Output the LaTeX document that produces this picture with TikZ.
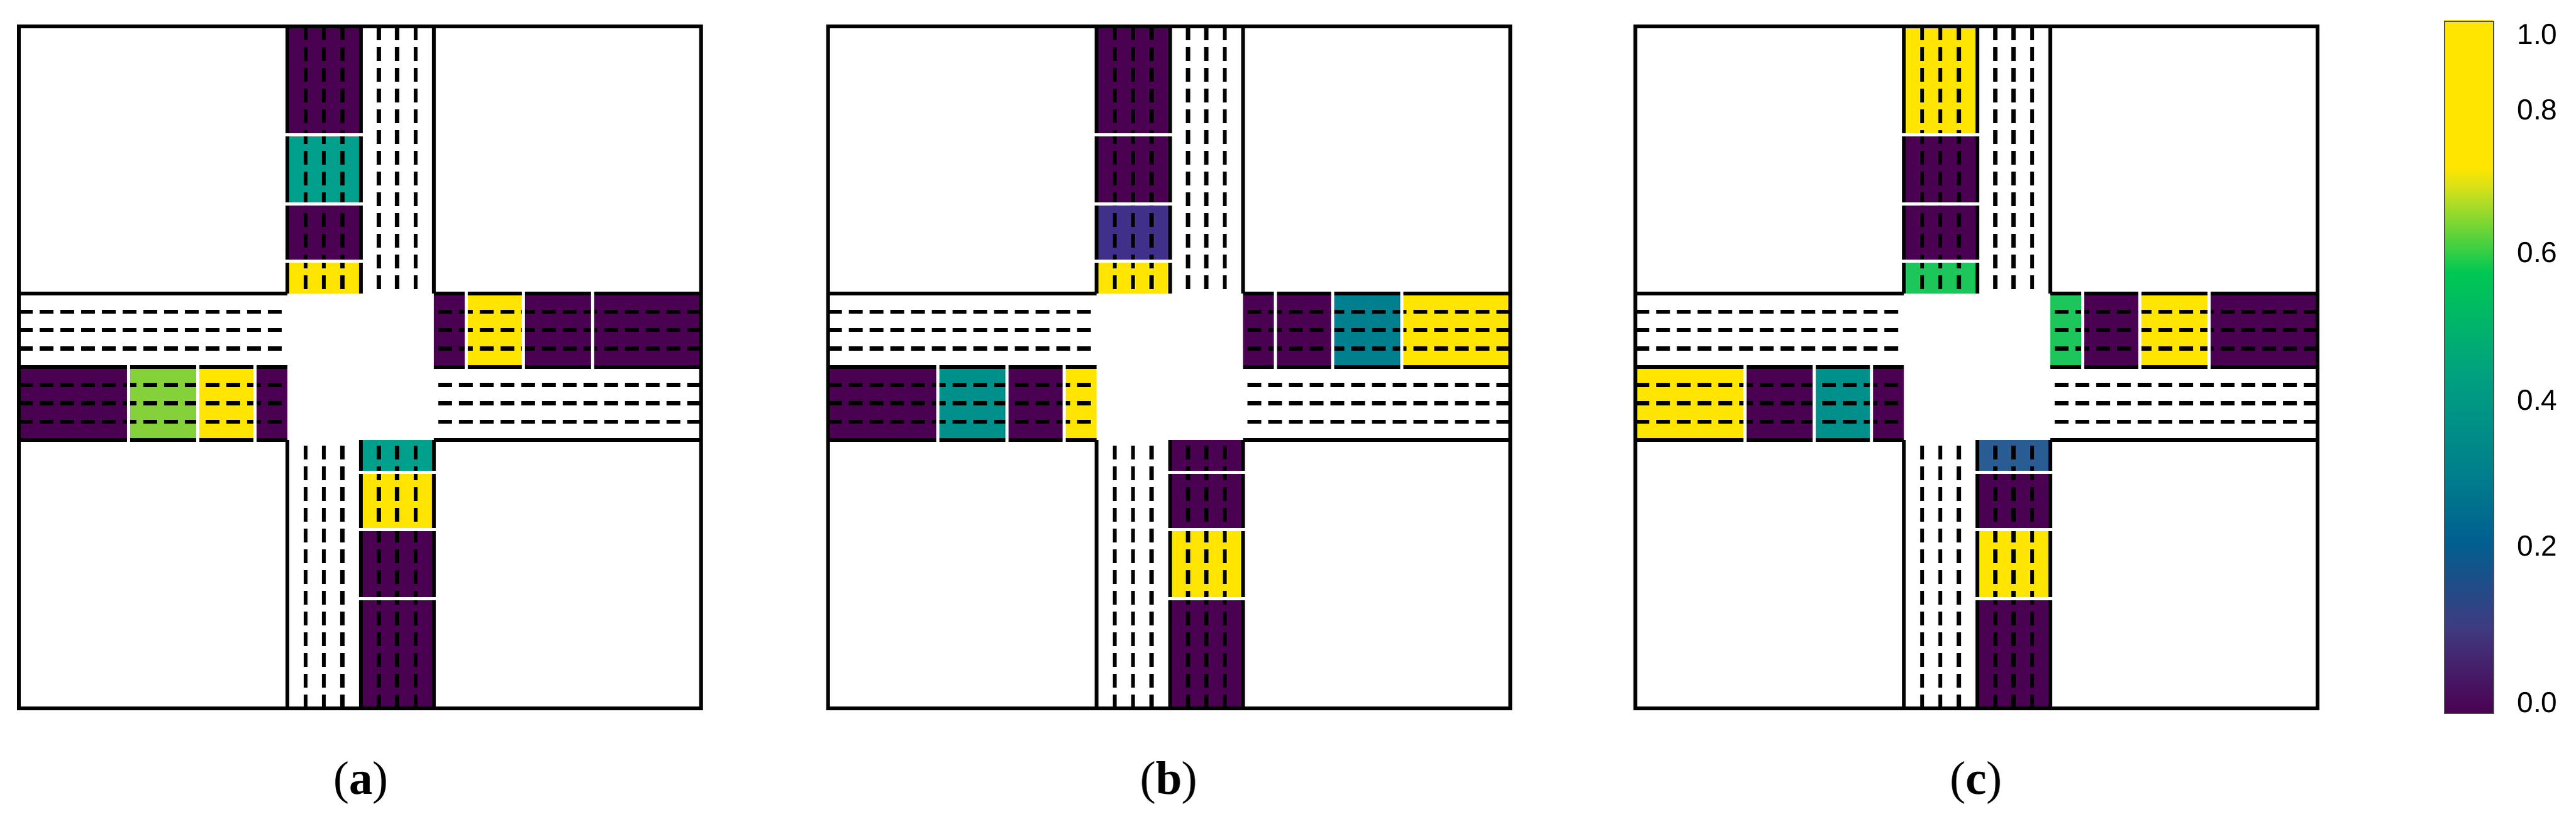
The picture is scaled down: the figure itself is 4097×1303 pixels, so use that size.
\documentclass[tikz,border=0pt]{standalone}
\usepackage{fontspec}
\setmainfont{Liberation Serif}
\newfontfamily\cbfont{Liberation Sans}
\begin{document}
\definecolor{cP}{HTML}{4B0152}
\definecolor{cY}{HTML}{FFE500}
\definecolor{cT}{HTML}{00A08C}
\definecolor{cTb}{HTML}{00808F}
\definecolor{cTc}{HTML}{00908C}
\definecolor{cLG}{HTML}{84D13A}
\definecolor{cDB}{HTML}{40308A}
\definecolor{cG}{HTML}{1CC65A}
\definecolor{cB}{HTML}{2A5C94}
\tikzset{
  edge/.style={line width=6pt,black},
  lane/.style={line width=6.5pt,black,dash pattern=on 22pt off 11pt},
  gap/.style={line width=5pt,white},
  frame/.style={line width=5.5pt,black},
  lab/.style={font=\fontsize{75}{80}\selectfont,anchor=base},
  cbl/.style={font=\cbfont\fontsize{46}{50}\selectfont,anchor=west}
}
% #1 ox; #2 top; #3 right; #4 bottom; #5 left  (each 4 colours near->far)
\newcommand{\crossing}[5]{%
\begin{scope}[shift={(#1,42)}]
 \def\XA{427}\def\XM{543.5}\def\XB{660}
 \def\YA{425}\def\YM{541.5}\def\YB{658}
 \def\S{1085}
 \foreach \c [count=\i] in {#2}{%
   \pgfmathsetmacro\a{{0,51.5,142.5,252.5}[\i-1]}%
   \pgfmathsetmacro\b{{51.5,142.5,252.5,425}[\i-1]}%
   \fill[\c] (\XA,\YA-\a) rectangle (\XM,\YA-\b);}
 \foreach \c [count=\i] in {#3}{%
   \pgfmathsetmacro\a{{0,51.5,142.5,252.5}[\i-1]}%
   \pgfmathsetmacro\b{{51.5,142.5,252.5,425}[\i-1]}%
   \fill[\c] (\XB+\a,\YA) rectangle (\XB+\b,\YM);}
 \foreach \c [count=\i] in {#4}{%
   \pgfmathsetmacro\a{{0,51.5,142.5,252.5}[\i-1]}%
   \pgfmathsetmacro\b{{51.5,142.5,252.5,427}[\i-1]}%
   \fill[\c] (\XM,\YB+\a) rectangle (\XB,\YB+\b);}
 \foreach \c [count=\i] in {#5}{%
   \pgfmathsetmacro\a{{0,51.5,142.5,252.5}[\i-1]}%
   \pgfmathsetmacro\b{{51.5,142.5,252.5,427}[\i-1]}%
   \fill[\c] (\XA-\a,\YM) rectangle (\XA-\b,\YB);}
 % lane dashes
 \foreach \k in {1,2,3}{%
   \draw[lane] (\XA+29.1*\k,0) -- (\XA+29.1*\k,\YA);
   \draw[lane] (\XM+29.1*\k,0) -- (\XM+29.1*\k,\YA);
   \draw[lane] (\XA+29.1*\k,\S) -- (\XA+29.1*\k,\YB);
   \draw[lane] (\XM+29.1*\k,\S) -- (\XM+29.1*\k,\YB);
   \draw[lane] (0,\YA+29.1*\k) -- (\XA,\YA+29.1*\k);
   \draw[lane] (0,\YM+29.1*\k) -- (\XA,\YM+29.1*\k);
   \draw[lane] (\S,\YA+29.1*\k) -- (\XB,\YA+29.1*\k);
   \draw[lane] (\S,\YM+29.1*\k) -- (\XB,\YM+29.1*\k);}
 % road edges
 \foreach \x in {\XA,\XM,\XB}{%
   \draw[edge] (\x,0) -- (\x,\YA);
   \draw[edge] (\x,\YB) -- (\x,\S);}
 \foreach \y in {\YA,\YM,\YB}{%
   \draw[edge] (0,\y) -- (\XA,\y);
   \draw[edge] (\XB,\y) -- (\S,\y);}
 % white gaps between cells
 \foreach \g in {51.5,142.5,252.5}{%
   \draw[gap] (\XA-3,\YA-\g) -- (\XM+3,\YA-\g);
   \draw[gap] (\XB+\g,\YA-3) -- (\XB+\g,\YM+3);
   \draw[gap] (\XM-3,\YB+\g) -- (\XB+3,\YB+\g);
   \draw[gap] (\XA-\g,\YM-3) -- (\XA-\g,\YB+3);}
 \draw[frame] (0,0) rectangle (\S,\S);
\end{scope}}
\begin{tikzpicture}[x=1pt,y=-1pt]
\useasboundingbox (0,0) rectangle (4097,1303);
\fill[white] (0,0) rectangle (4097,1303);
\crossing{30}{cY,cP,cT,cP}{cP,cY,cP,cP}{cT,cY,cP,cP}{cP,cY,cLG,cP}
\crossing{1317}{cY,cDB,cP,cP}{cP,cP,cTb,cY}{cP,cP,cY,cP}{cY,cP,cTc,cP}
\crossing{2601}{cG,cP,cP,cY}{cG,cP,cY,cP}{cB,cP,cY,cP}{cP,cTc,cP,cY}
\node[lab] (la) at (574,1263) {(\textbf{a})};
\node[lab] (lb) at (1859,1263) {(\textbf{b})};
\node[lab] (lc) at (3143,1263) {(\textbf{c})};
% colour bar
\shade[top color=cY,bottom color=cY] (3887,33) rectangle (3965,267);
\shade[top color=cY,bottom color={rgb,255:red,212;green,225;blue,26}] (3887,266) rectangle (3965,300);
\shade[top color={rgb,255:red,212;green,225;blue,26},bottom color={rgb,255:red,0;green,200;blue,83}] (3887,299) rectangle (3965,433);
\shade[top color={rgb,255:red,0;green,200;blue,83},bottom color={rgb,255:red,0;green,160;blue,128}] (3887,432) rectangle (3965,600);
\shade[top color={rgb,255:red,0;green,160;blue,128},bottom color={rgb,255:red,0;green,128;blue,140}] (3887,599) rectangle (3965,750);
\shade[top color={rgb,255:red,0;green,128;blue,140},bottom color={rgb,255:red,0;green,96;blue,144}] (3887,749) rectangle (3965,860);
\shade[top color={rgb,255:red,0;green,96;blue,144},bottom color={rgb,255:red,63;green,58;blue,128}] (3887,859) rectangle (3965,1000);
\shade[top color={rgb,255:red,63;green,58;blue,128},bottom color=cP] (3887,999) rectangle (3965,1134);
\node[draw=black!70,line width=2pt,minimum width=78pt,minimum height=1101pt,inner sep=0pt,anchor=north west] (cb) at (3887,33) {};
\node[cbl] (t10) at (4000,55) {1.0};
\node[cbl] (t08) at (4000,175) {0.8};
\node[cbl] (t06) at (4000,402) {0.6};
\node[cbl] (t04) at (4000,637) {0.4};
\node[cbl] (t02) at (4000,869) {0.2};
\node[cbl] (t00) at (4000,1118) {0.0};
\end{tikzpicture}
\end{document}
